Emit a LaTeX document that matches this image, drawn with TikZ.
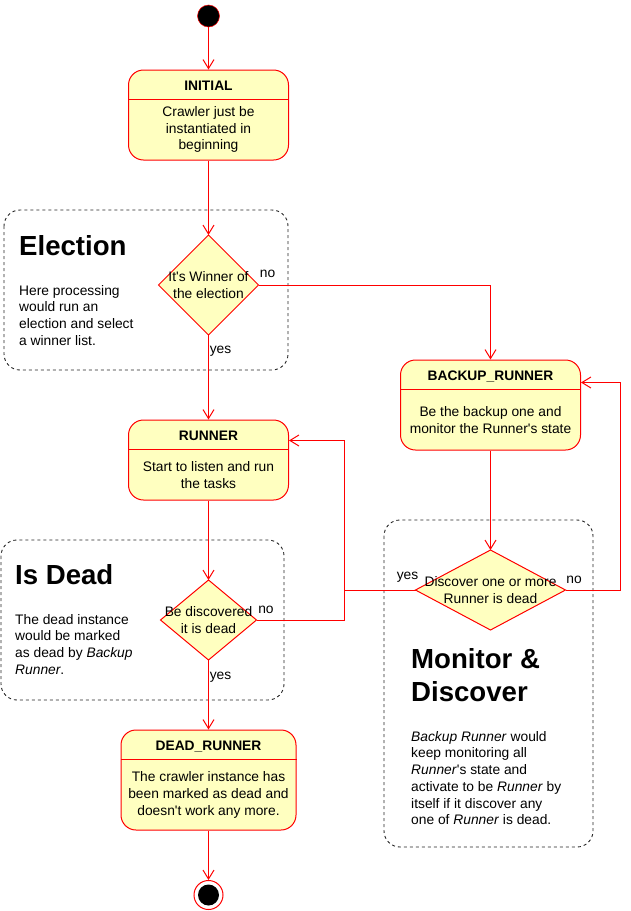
\documentclass[tikz,border=0pt]{standalone}
\usepackage{fontspec}
\setmainfont{Liberation Sans}
\usetikzlibrary{shapes.geometric,arrows.meta}

\definecolor{statefill}{HTML}{FFFFC0}
\definecolor{stateline}{HTML}{FF0000}

\tikzset{
	state/.style={draw=stateline, fill=statefill, line width=1pt, rounded corners=15pt, inner sep=0pt},
	decision/.style={diamond, draw=stateline, fill=statefill, line width=1pt, inner sep=0pt, outer sep=0pt},
	group/.style={draw=black!85, line width=0.9pt, dash pattern=on 3pt off 3pt, rounded corners=16pt},
	flow/.style={draw=stateline, line width=1pt, -{Straight Barb[length=9pt,width=11pt]}},
	link/.style={draw=stateline, line width=1pt},
	txt/.style={inner sep=0pt, align=center, font=\fontsize{13.8}{16.8}\selectfont},
	statetitle/.style={txt, text depth=0pt, font=\fontsize{13.8}{16.8}\selectfont\bfseries},
	note/.style={inner sep=0pt, align=left, anchor=north west, font=\fontsize{13.8}{16.7}\selectfont},
	heading/.style={inner sep=0pt, align=left, anchor=west, font=\fontsize{27.6}{33.7}\selectfont\bfseries},
}

\begin{document}
\begin{tikzpicture}[x=1pt,y=-1pt]
	\useasboundingbox (0,0) rectangle (631,911);

	\draw[group] (4,210) rectangle (288,370);
	\draw[group] (1,540) rectangle (284,700);
	\draw[group] (384,520) rectangle (593,847);

	\node[heading] (electhead) at (19,245.5) {Election};
	\node[note] (electnote) at (19,285) {Here processing\\would run an\\election and select\\a winner list.};
	\node[heading] (deadhead) at (15,575) {Is Dead};
	\node[note] (deadnote) at (15,614) {The dead instance\\would be marked\\as dead by \textit{Backup}\\\textit{Runner}.};
	\node[heading] (monhead) at (411,675) {Monitor \&\\Discover};
	\node[note] (monnote) at (411,731) {\textit{Backup Runner} would\\keep monitoring all\\\textit{Runner}\textquotesingle s state and\\activate to be \textit{Runner} by\\itself if it discover any\\one of \textit{Runner} is dead.};

	\node[circle, fill=black, draw=stateline, line width=0.5pt, minimum size=22pt, inner sep=0pt] (start) at (208.5,16) {};

	\node[state, minimum width=160pt, minimum height=90pt] (initial) at (208.5,115) {};
	\draw[link] ([yshift=-30pt]initial.north west) -- ([yshift=-30pt]initial.north east);
	\node[statetitle] (initialtitle) at ([yshift=-16pt]initial.north) {INITIAL};
	\node[txt] (initialtext) at ([yshift=-60pt]initial.north) {Crawler just be\\instantiated in\\beginning};

	\node[state, minimum width=180pt, minimum height=90pt] (backup) at (490.5,405) {};
	\draw[link] ([yshift=-30pt]backup.north west) -- ([yshift=-30pt]backup.north east);
	\node[statetitle] (backuptitle) at ([yshift=-16pt]backup.north) {BACKUP\_RUNNER};
	\node[txt] (backuptext) at ([yshift=-60.5pt]backup.north) {Be the backup one and\\monitor the Runner\textquotesingle s state};

	\node[state, minimum width=160pt, minimum height=80pt] (runner) at (208.5,460) {};
	\draw[link] ([yshift=-30pt]runner.north west) -- ([yshift=-30pt]runner.north east);
	\node[statetitle] (runnertitle) at ([yshift=-16pt]runner.north) {RUNNER};
	\node[txt] (runnertext) at ([yshift=-55.5pt]runner.north) {Start to listen and run\\the tasks};

	\node[state, minimum width=175pt, minimum height=100pt] (dead) at (208.5,780) {};
	\draw[link] ([yshift=-30pt]dead.north west) -- ([yshift=-30pt]dead.north east);
	\node[statetitle] (deadtitle) at ([yshift=-16pt]dead.north) {DEAD\_RUNNER};
	\node[txt] (deadtext) at ([yshift=-65.5pt]dead.north) {The crawler instance has\\been marked as dead and\\doesn\textquotesingle t work any more.};

	\node[circle, draw=stateline, fill=white, line width=1pt, minimum size=29pt, inner sep=0pt] (end) at (208.5,895) {};
	\node[circle, fill=black, minimum size=21pt, inner sep=0pt] (enddot) at (end) {};

	\node[decision, minimum width=100pt, minimum height=100pt] (elect) at (208.5,285) {};
	\node[txt] (electtext) at (elect) {It\textquotesingle s Winner of\\the election};
	\node[decision, minimum width=96pt, minimum height=80pt] (isdead) at (208.5,620) {};
	\node[txt] (isdeadtext) at (isdead) {Be discovered\\it is dead};
	\node[decision, minimum width=150pt, minimum height=80pt] (discover) at (490.5,590) {};
	\node[txt] (discovertext) at (discover) {Discover one or more\\Runner is dead};

	\coordinate (deadloop) at (344,440.5);
	\coordinate (backloop) at (620,382.5);

	\draw[flow] (start) -- (initial);
	\draw[flow] (initial) -- (elect);
	\draw[flow] (elect) -- (runner);
	\draw[flow] (elect.east) -| (backup.north);
	\draw[flow] (runner) -- (isdead);
	\draw[flow] (isdead) -- (dead);
	\draw[flow] (dead) -- (end);
	\draw[flow] (backup) -- (discover);
	\draw[flow] (isdead.east) -| (deadloop) -- (deadloop -| runner.east);
	\draw[link] (discover.west) -- (discover.west -| deadloop);
	\draw[flow] (discover.east) -| (backloop) -- (backloop -| backup.east);

	\node[txt] (electno) at (267.5,274) {no};
	\node[txt] (electyes) at (220.5,351) {yes};
	\node[txt] (deadno) at (266,610) {no};
	\node[txt] (deadyes) at (220.5,677) {yes};
	\node[txt] (discyes) at (407.5,577) {yes};
	\node[txt] (discno) at (574,580) {no};

\end{tikzpicture}
\end{document}
